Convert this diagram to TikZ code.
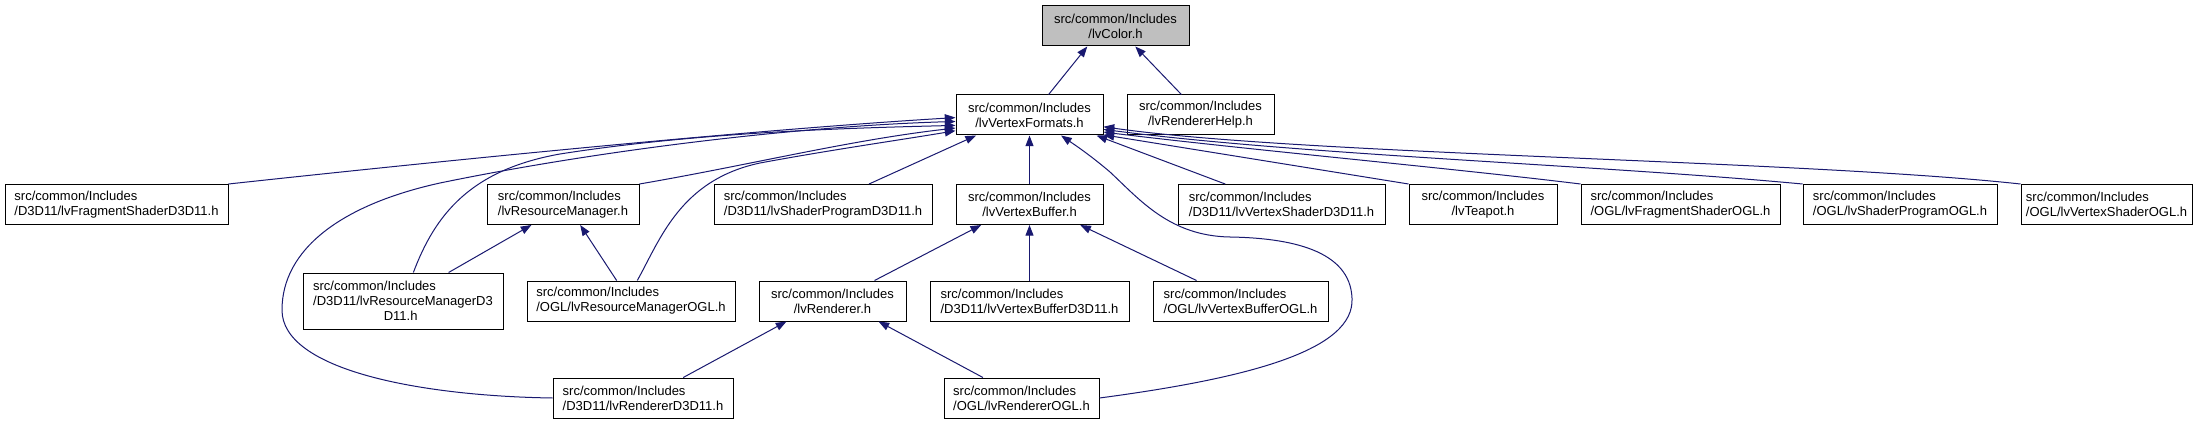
\documentclass[tikz,border=0pt]{standalone}
\usepackage{fontspec}
\setmainfont{Liberation Sans}
\usepackage{xcolor}
\usepackage{tikz}
\usetikzlibrary{arrows.meta, calc}

\definecolor{edgeblue}{HTML}{191970}
\definecolor{rootgray}{HTML}{BFBFBF}

\tikzset{
    file/.style={draw=black, fill=white, line width=0.75pt, align=center, inner sep=0pt,
        minimum height=30pt, font=\fontsize{9.75}{11.25}\selectfont},
    longfile/.style={file, align=left},
    dep/.style={draw=edgeblue, line width=0.75pt, -{Triangle[length=8pt,width=6pt]}}
}

\begin{document}
\begin{tikzpicture}[x=0.75pt, y=-0.75pt]
    \useasboundingbox[fill=white] (0,0) rectangle (2209,424);

    % Root and first level
    \node[file, fill=rootgray, minimum width=110.25pt] (color) at (1115.5,26) {src/common/Includes\\/lvColor.h};
    \node[file, minimum width=110.25pt] (vfmt) at (1029.5,115) {src/common/Includes\\/lvVertexFormats.h};
    \node[file, minimum width=110.25pt] (rhelp) at (1200.5,115) {src/common/Includes\\/lvRendererHelp.h};

    % Second level
    \node[longfile, minimum width=167.25pt] (fsd3d) at (116.5,204.5) {src/common/Includes\\/D3D11/lvFragmentShaderD3D11.h};
    \node[longfile, minimum width=114pt] (resmgr) at (563,204.5) {src/common/Includes\\/lvResourceManager.h};
    \node[longfile, minimum width=163.5pt] (spd3d) at (823,204.5) {src/common/Includes\\/D3D11/lvShaderProgramD3D11.h};
    \node[file, minimum width=110.25pt] (vbuf) at (1029.5,204.5) {src/common/Includes\\/lvVertexBuffer.h};
    \node[longfile, minimum width=155.25pt] (vsd3d) at (1281.5,204.5) {src/common/Includes\\/D3D11/lvVertexShaderD3D11.h};
    \node[file, minimum width=111pt] (teapot) at (1483,204.5) {src/common/Includes\\/lvTeapot.h};
    \node[longfile, minimum width=149.25pt] (fsogl) at (1680.5,204.5) {src/common/Includes\\/OGL/lvFragmentShaderOGL.h};
    \node[longfile, minimum width=145.5pt] (spogl) at (1900,204.5) {src/common/Includes\\/OGL/lvShaderProgramOGL.h};
    \node[longfile, minimum width=128.25pt] (vsogl) at (2106.5,204.5) {src/common/Includes\\/OGL/lvVertexShaderOGL.h};

    % Third level
    \node[longfile, minimum width=150pt, minimum height=42pt] (rmd3d) at (403,301) {src/common/Includes\\/D3D11/lvResourceManagerD3\\\hspace*{53pt}D11.h};
    \node[longfile, minimum width=156pt] (rmogl) at (631,301) {src/common/Includes\\/OGL/lvResourceManagerOGL.h};
    \node[file, minimum width=110.25pt] (rend) at (832.5,301) {src/common/Includes\\/lvRenderer.h};
    \node[longfile, minimum width=149.25pt] (vbd3d) at (1029.5,301) {src/common/Includes\\/D3D11/lvVertexBufferD3D11.h};
    \node[longfile, minimum width=131.25pt] (vbogl) at (1240.5,301) {src/common/Includes\\/OGL/lvVertexBufferOGL.h};

    % Fourth level
    \node[longfile, minimum width=135pt] (rd3d) at (643,398) {src/common/Includes\\/D3D11/lvRendererD3D11.h};
    \node[longfile, minimum width=116.25pt] (rogl) at (1021.5,398) {src/common/Includes\\/OGL/lvRendererOGL.h};

    % Includes of lvColor.h
    \draw[dep] (vfmt.47) -- (color.216);
    \draw[dep] (rhelp.133) -- (color.314);

    % Includes of lvVertexFormats.h
    \draw[dep] (fsd3d.north east) .. controls (450,160) and (750,130) .. (vfmt.182);
    \draw[dep] (rd3d.west) .. controls (420,396) and (282,370) .. (282,310)
        .. controls (282,250) and (340,205) .. (440,183)
        .. controls (600,150) and (800,126) .. (vfmt.185);
    \draw[dep] (rmd3d.70) .. controls (435,215) and (470,170) .. (560,154)
        .. controls (700,132) and (850,128) .. (vfmt.188);
    \draw[dep] (resmgr.north east) .. controls (750,165) and (850,140) .. (vfmt.190);
    \draw[dep] (rmogl.73) .. controls (660,240) and (680,180) .. (760,163)
        .. controls (830,150) and (900,140) .. (vfmt.192);
    \draw[dep] (spd3d.24) -- (vfmt.201);
    \draw[dep] (vbuf.north) -- (vfmt.south);
    \draw[dep] (rogl.east) .. controls (1250,378) and (1355,350) .. (1352,298)
        .. controls (1350,250) and (1290,238) .. (1230,237)
        .. controls (1170,236) and (1140,200) .. (1110,172)
        .. controls (1090,155) and (1075,145) .. (vfmt.327);
    \draw[dep] (vsd3d.160) -- (vfmt.343);
    \draw[dep] (teapot.north west) -- (vfmt.345);
    \draw[dep] (fsogl.north west) .. controls (1450,168) and (1250,150) .. (vfmt.347);
    \draw[dep] (spogl.north west) .. controls (1600,165) and (1300,155) .. (vfmt.349);
    \draw[dep] (vsogl.north west) .. controls (1800,160) and (1300,155) .. (vfmt.351);

    % Includes of second level
    \draw[dep] (rmd3d.32) -- (resmgr.213);
    \draw[dep] (rmogl.125) -- (resmgr.310);
    \draw[dep] (rend.26) -- (vbuf.203);
    \draw[dep] (vbd3d.north) -- (vbuf.south);
    \draw[dep] (vbogl.155) -- (vbuf.338);

    % Includes of lvRenderer.h
    \draw[dep] (rd3d.27) -- (rend.204);
    \draw[dep] (rogl.152) -- (rend.336);
\end{tikzpicture}
\end{document}
